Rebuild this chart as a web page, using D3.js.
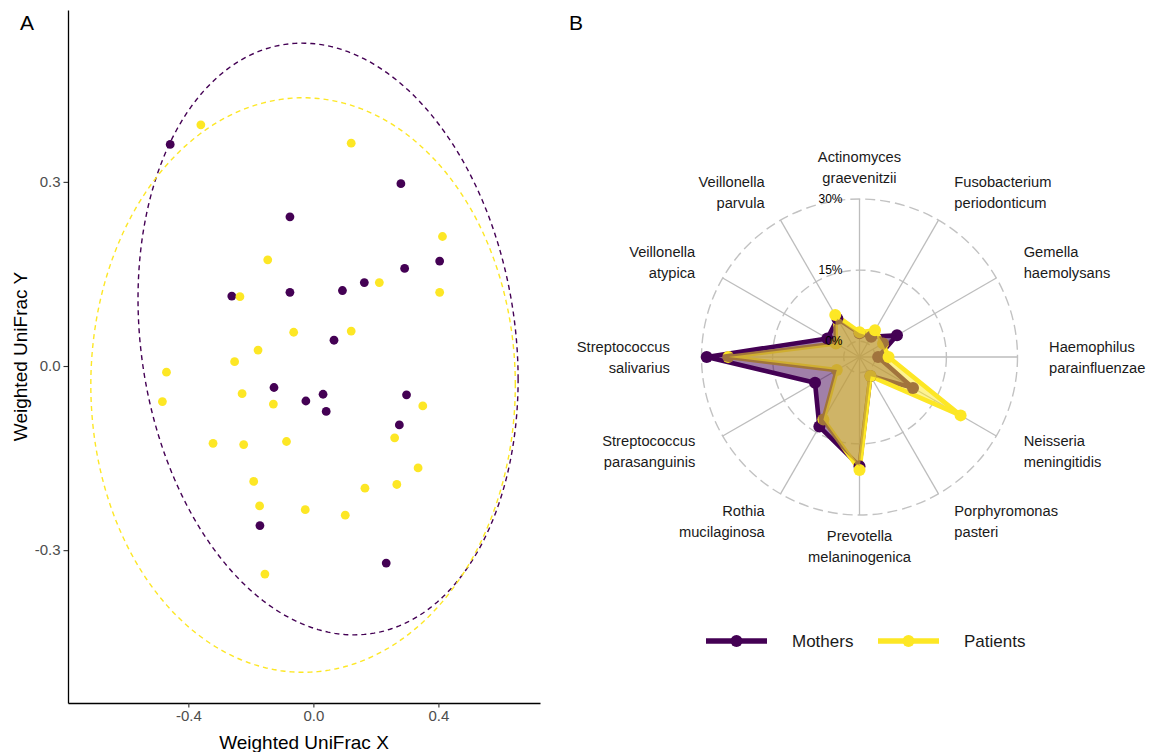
<!DOCTYPE html>
<html>
<head>
<meta charset="utf-8">
<script src="https://cdn.jsdelivr.net/npm/d3@7"></script>
<style>
  html, body { margin: 0; padding: 0; background: #ffffff; }
  svg { display: block; font-family: "Liberation Sans", Arial, sans-serif; }
</style>
</head>
<body>
<svg id="chart" width="1149" height="752"></svg>
<script>
// ---------- Panel A: Weighted UniFrac ordination ----------
const groups = ["Mothers", "Patients"];
const groupColors = ["#440154", "#FDE725"];

const mothersX = [-0.458, -0.075, 0.280, -0.261, -0.075, 0.163, 0.093, 0.292, 0.404, 0.066, -0.126, -0.024, 0.031, 0.041, 0.298, 0.275, -0.171, 0.233];
const mothersY = [0.361, 0.243, 0.297, 0.114, 0.120, 0.136, 0.123, 0.159, 0.171, 0.042, -0.035, -0.057, -0.046, -0.074, -0.047, -0.096, -0.260, -0.321];

const patientsX = [-0.360, 0.121, 0.413, -0.146, -0.235, 0.211, 0.404, -0.063, 0.121, -0.177, -0.252, -0.470, -0.483, -0.228, -0.128, -0.321, -0.223, -0.086, -0.191, 0.350, 0.260, 0.335, 0.165, 0.267, -0.172, -0.026, 0.102, -0.155];
const patientsY = [0.393, 0.363, 0.211, 0.173, 0.113, 0.136, 0.120, 0.055, 0.057, 0.026, 0.007, -0.010, -0.058, -0.045, -0.062, -0.126, -0.128, -0.123, -0.188, -0.065, -0.117, -0.166, -0.199, -0.193, -0.228, -0.234, -0.243, -0.339];

// 95% confidence ellipses: centre, half-extents and correlation per group
const ellipseCx = [0.047, -0.033];
const ellipseCy = [0.044, -0.031];
const ellipseSx = [0.608, 0.679];
const ellipseSy = [0.482, 0.468];
const ellipseRho = [-0.136, 0.0];

const xTicks = [-0.4, 0.0, 0.4];
const yTicks = [-0.3, 0.0, 0.3];

// ---------- Panel B: radar of relative abundance ----------
const taxa = [
  ["Actinomyces", "graevenitzii"],
  ["Fusobacterium", "periodonticum"],
  ["Gemella", "haemolysans"],
  ["Haemophilus", "parainfluenzae"],
  ["Neisseria", "meningitidis"],
  ["Porphyromonas", "pasteri"],
  ["Prevotella", "melaninogenica"],
  ["Rothia", "mucilaginosa"],
  ["Streptococcus", "parasanguinis"],
  ["Streptococcus", "salivarius"],
  ["Veillonella", "atypica"],
  ["Veillonella", "parvula"]
];
const mothersAbundance = [0.017, 0.016, 0.058, 0.006, 0.097, 0.013, 0.197, 0.136, 0.075, 0.289, 0.045, 0.060];
const patientsAbundance = [0.019, 0.032, 0.024, 0.028, 0.213, 0.013, 0.205, 0.119, 0.022, 0.2435, 0.024, 0.069];
const gridValues = [0, 0.15, 0.30];
const gridLabels = ["0%", "15%", "30%"];

const svg = d3.select("#chart");
const FONT = '"Liberation Sans", Arial, sans-serif';

// ================= Panel A =================
const A = { left: 68, right: 540, top: 10, bottom: 703 };
const x = d3.scaleLinear().domain([-0.785, 0.725]).range([A.left, A.right]);
const y = d3.scaleLinear().domain([-0.549, 0.580]).range([A.bottom, A.top]);

const gA = svg.append("g");

// ellipses
const ellipsePts = d3.range(0, 361).map(d => d * Math.PI / 180);
groups.forEach((g, i) => {
  const rho = ellipseRho[i];
  const pts = ellipsePts.map(t => [
    x(ellipseCx[i] + ellipseSx[i] * Math.cos(t)),
    y(ellipseCy[i] + ellipseSy[i] * (rho * Math.cos(t) + Math.sqrt(1 - rho * rho) * Math.sin(t)))
  ]);
  gA.append("path")
    .attr("d", d3.line()(pts))
    .attr("fill", "none")
    .attr("stroke", groupColors[i])
    .attr("stroke-width", 1.4)
    .attr("stroke-dasharray", "5,4");
});

// points
const scatter = [
  { xs: mothersX, ys: mothersY, color: groupColors[0] },
  { xs: patientsX, ys: patientsY, color: groupColors[1] }
];
scatter.forEach(s => {
  gA.append("g").selectAll("circle")
    .data(s.xs.map((v, k) => [v, s.ys[k]]))
    .join("circle")
    .attr("cx", d => x(d[0]))
    .attr("cy", d => y(d[1]))
    .attr("r", 4.4)
    .attr("fill", s.color);
});

// axes
const fmt = d => d.toFixed(1);
const xAxis = gA.append("g")
  .attr("transform", `translate(0,${A.bottom})`)
  .call(d3.axisBottom(x).tickValues(xTicks).tickFormat(fmt).tickSize(4.5).tickSizeOuter(0).tickPadding(3));
const yAxis = gA.append("g")
  .attr("transform", `translate(${A.left},0)`)
  .call(d3.axisLeft(y).tickValues(yTicks).tickFormat(fmt).tickSize(4.5).tickSizeOuter(0).tickPadding(3));
[xAxis, yAxis].forEach(ax => {
  ax.select(".domain").attr("stroke", "#000").attr("stroke-width", 1.3);
  ax.selectAll(".tick line").attr("stroke", "#333").attr("stroke-width", 1.1);
  ax.selectAll(".tick text").attr("fill", "#4D4D4D").style("font-size", "15px").style("font-family", FONT);
});

gA.append("text")
  .attr("x", (A.left + A.right) / 2).attr("y", 742)
  .attr("text-anchor", "middle").attr("dominant-baseline", "central")
  .style("font-size", "19px").attr("fill", "#000")
  .text("Weighted UniFrac X");
gA.append("text")
  .attr("transform", `translate(20,${(A.top + A.bottom) / 2}) rotate(-90)`)
  .attr("text-anchor", "middle").attr("dominant-baseline", "central")
  .style("font-size", "19px").attr("fill", "#000")
  .text("Weighted UniFrac Y");

// panel tags
svg.append("text").attr("x", 27).attr("y", 22).attr("text-anchor", "middle")
  .attr("dominant-baseline", "central").style("font-size", "21px").text("A");
svg.append("text").attr("x", 576).attr("y", 22).attr("text-anchor", "middle")
  .attr("dominant-baseline", "central").style("font-size", "21px").text("B");

// ================= Panel B =================
const C = { x: 859.5, y: 357 };
const R = 158;
const r = d3.scaleLinear().domain([-1 / 30, 0.30]).range([0, R]);
const n = taxa.length;
const angle = i => i * 2 * Math.PI / n;
const px = (i, rad) => C.x + rad * Math.sin(angle(i));
const py = (i, rad) => C.y - rad * Math.cos(angle(i));

const gB = svg.append("g");

// grid circles
gridValues.forEach(v => {
  gB.append("circle")
    .attr("cx", C.x).attr("cy", C.y).attr("r", r(v))
    .attr("fill", "none")
    .attr("stroke", "#c2c2c2")
    .attr("stroke-width", 1.4)
    .attr("stroke-dasharray", "10,5");
});

// spokes
gB.append("g").selectAll("line")
  .data(taxa)
  .join("line")
  .attr("x1", C.x).attr("y1", C.y)
  .attr("x2", (d, i) => px(i, R))
  .attr("y2", (d, i) => py(i, R))
  .attr("stroke", "#bdbdbd")
  .attr("stroke-width", 1.3);

// taxon labels
const labelR = R * 1.2;
taxa.forEach((lines, i) => {
  const s = Math.sin(angle(i));
  const anchor = Math.abs(s) < 1e-6 ? "middle" : (s > 0 ? "start" : "end");
  const t = gB.append("text")
    .attr("text-anchor", anchor)
    .attr("dominant-baseline", "central")
    .style("font-size", "14.7px")
    .attr("fill", "#1a1a1a");
  lines.forEach((ln, k) => {
    t.append("tspan")
      .attr("x", px(i, labelR))
      .attr("y", py(i, labelR) + (k - (lines.length - 1) / 2) * 21)
      .text(ln);
  });
});

// group series
const series = [
  { name: groups[0], values: mothersAbundance, color: groupColors[0] },
  { name: groups[1], values: patientsAbundance, color: groupColors[1] }
];
const pathOf = vals => {
  const pts = vals.map((v, i) => [px(i, r(v)), py(i, r(v))]);
  return d3.line()(pts.concat([pts[0]]));
};

// outlines, then points, then translucent fills
series.forEach(s => {
  gB.append("path")
    .attr("d", pathOf(s.values))
    .attr("fill", "none")
    .attr("stroke", s.color)
    .attr("stroke-width", 4.6)
    .attr("stroke-linejoin", "round");
});
series.forEach(s => {
  gB.append("g").selectAll("circle")
    .data(s.values)
    .join("circle")
    .attr("cx", (v, i) => px(i, r(v)))
    .attr("cy", (v, i) => py(i, r(v)))
    .attr("r", 6)
    .attr("fill", s.color);
});
series.forEach(s => {
  gB.append("path")
    .attr("d", pathOf(s.values))
    .attr("fill", s.color)
    .attr("fill-opacity", 0.5)
    .attr("stroke", "none");
});

// grid value labels
gridValues.forEach((v, k) => {
  gB.append("text")
    .attr("x", C.x - 17)
    .attr("y", C.y - r(v))
    .attr("text-anchor", "end")
    .attr("dominant-baseline", "central")
    .style("font-size", "12px")
    .attr("fill", "#000")
    .text(gridLabels[k]);
});

// legend
const legendY = 641;
const legendX = [706, 878];
series.forEach((s, i) => {
  const lx = legendX[i];
  gB.append("line")
    .attr("x1", lx).attr("x2", lx + 61)
    .attr("y1", legendY).attr("y2", legendY)
    .attr("stroke", s.color).attr("stroke-width", 5.5);
  gB.append("circle")
    .attr("cx", lx + 30.5).attr("cy", legendY).attr("r", 6)
    .attr("fill", s.color);
  gB.append("text")
    .attr("x", lx + 86).attr("y", legendY)
    .attr("dominant-baseline", "central")
    .style("font-size", "17px")
    .attr("fill", "#1a1a1a")
    .text(s.name);
});
</script>
</body>
</html>
